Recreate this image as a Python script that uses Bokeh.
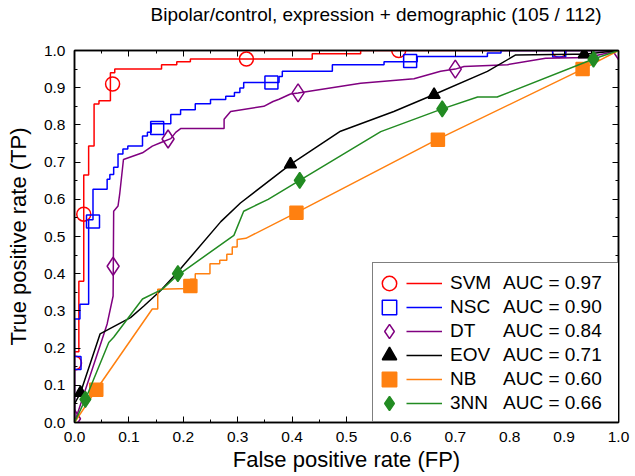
from bokeh.plotting import figure
from bokeh.models import (Range1d, LinearAxis, SingleIntervalTicker, Legend, LegendItem,
                          PrintfTickFormatter, CustomJSTickFormatter)
from bokeh.embed import file_html
from bokeh.resources import INLINE

FONT = "Liberation Sans"

title_text = "Bipolar/control, expression + demographic (105 / 112)"
x_label = "False positive rate (FP)"
y_label = "True positive rate (TP)"

methods = ["SVM", "NSC", "DT", "EOV", "NB", "3NN"]
auc = [0.97, 0.90, 0.84, 0.71, 0.60, 0.66]

# ROC curves: (false positive rate, true positive rate)
svm_pts = [(0, 0), (0, 0.19), (0.008, 0.19), (0.008, 0.38), (0.017, 0.38), (0.017, 0.665),
           (0.026, 0.665), (0.026, 0.743), (0.036, 0.743), (0.036, 0.856), (0.045, 0.856),
           (0.045, 0.865), (0.066, 0.865), (0.066, 0.94), (0.074, 0.94), (0.074, 0.95),
           (0.16, 0.95), (0.16, 0.962), (0.188, 0.962), (0.188, 0.97), (0.213, 0.97),
           (0.213, 0.977), (0.437, 0.977), (0.437, 0.991), (0.526, 0.991), (0.526, 1.0), (1.0, 1.0)]
nsc_pts = [(0, 0), (0, 0.278), (0.01, 0.278), (0.01, 0.318), (0.026, 0.318), (0.026, 0.545),
           (0.034, 0.545), (0.034, 0.627), (0.06, 0.627), (0.06, 0.654), (0.065, 0.654),
           (0.065, 0.667), (0.072, 0.667), (0.072, 0.686), (0.08, 0.686), (0.08, 0.722),
           (0.089, 0.722), (0.089, 0.735), (0.098, 0.735), (0.098, 0.743), (0.125, 0.743),
           (0.125, 0.77), (0.134, 0.77), (0.134, 0.78), (0.141, 0.78), (0.141, 0.803),
           (0.177, 0.803), (0.177, 0.828), (0.195, 0.828), (0.195, 0.841), (0.222, 0.841),
           (0.222, 0.857), (0.25, 0.857), (0.25, 0.868), (0.278, 0.868), (0.278, 0.877),
           (0.294, 0.877), (0.294, 0.887), (0.304, 0.887), (0.304, 0.899), (0.311, 0.899),
           (0.311, 0.914), (0.376, 0.914), (0.376, 0.93), (0.382, 0.93), (0.382, 0.944),
           (0.474, 0.944), (0.474, 0.962), (0.569, 0.962), (0.569, 0.97), (0.63, 0.97),
           (0.63, 0.984), (0.759, 0.984), (0.759, 0.993), (0.784, 0.993), (0.784, 1.0), (1.0, 1.0)]
dt_pts = [(0, 0), (0.048, 0.211), (0.06, 0.265), (0.071, 0.34), (0.072, 0.568), (0.08, 0.582),
          (0.083, 0.613), (0.09, 0.707), (0.125, 0.725), (0.143, 0.743), (0.158, 0.752),
          (0.177, 0.763), (0.186, 0.78), (0.195, 0.79), (0.275, 0.79), (0.275, 0.815),
          (0.287, 0.836), (0.348, 0.85), (0.365, 0.863), (0.376, 0.869), (0.397, 0.883),
          (0.411, 0.886), (0.526, 0.912), (0.624, 0.924), (0.673, 0.944), (0.70, 0.95),
          (0.716, 0.957), (0.796, 0.962), (0.866, 0.979), (0.943, 0.981), (1.0, 1.0)]
eov_pts = [(0, 0), (0, 0.05), (0.011, 0.08), (0.047, 0.238), (0.103, 0.282), (0.128, 0.314),
           (0.158, 0.354), (0.189, 0.403), (0.269, 0.54), (0.305, 0.59), (0.397, 0.694),
           (0.489, 0.783), (0.587, 0.836), (0.66, 0.881), (0.759, 0.944), (0.811, 0.988),
           (0.918, 0.99), (0.937, 0.99), (1.0, 1.0)]
nb_pts = [(0, 0), (0.04, 0.088), (0.143, 0.305), (0.153, 0.305), (0.153, 0.358), (0.213, 0.36),
          (0.213, 0.385), (0.222, 0.385), (0.222, 0.40), (0.249, 0.40), (0.249, 0.427),
          (0.267, 0.427), (0.267, 0.436), (0.28, 0.436), (0.28, 0.452), (0.29, 0.452),
          (0.29, 0.472), (0.299, 0.472), (0.299, 0.492), (0.315, 0.495), (0.408, 0.564),
          (0.667, 0.761), (0.934, 0.95), (1.0, 1.0)]
knn_pts = [(0, 0), (0.02, 0.062), (0.063, 0.215), (0.072, 0.229), (0.125, 0.332), (0.161, 0.358),
           (0.189, 0.395), (0.293, 0.503), (0.311, 0.568), (0.356, 0.6), (0.414, 0.651),
           (0.563, 0.782), (0.676, 0.843), (0.741, 0.875), (0.777, 0.875), (0.954, 0.977), (1.0, 1.0)]

# marker positions along each curve
svm_marks = [(0, 0.16), (0.017, 0.56), (0.07, 0.91), (0.316, 0.977), (0.596, 1.0), (0.891, 1.0)]
nsc_marks = [(0, 0.16), (0.034, 0.54), (0.152, 0.792), (0.362, 0.914), (0.617, 0.972), (0.891, 1.0)]
dt_marks = [(0, 0.01), (0.071, 0.42), (0.172, 0.762), (0.411, 0.886), (0.70, 0.95), (1.0, 1.0)]
eov_marks = [(0.011, 0.08), (0.397, 0.694), (0.661, 0.881), (0.937, 0.99)]
nb_marks = [(0.04, 0.088), (0.213, 0.367), (0.408, 0.564), (0.668, 0.76), (0.934, 0.95)]
knn_marks = [(0.02, 0.062), (0.19, 0.40), (0.414, 0.651), (0.676, 0.843), (0.954, 0.977)]

curves = [svm_pts, nsc_pts, dt_pts, eov_pts, nb_pts, knn_pts]
marks = [svm_marks, nsc_marks, dt_marks, eov_marks, nb_marks, knn_marks]

colors = ["#ff0000", "#0000ff", "#800080", "#000000", "#ff8010", "#228b22"]
marker_types = ["circle", "square", "diamond", "triangle", "square", "diamond"]
marker_fill = [None, None, None, "#000000", "#ff8010", "#228b22"]
marker_sizes = [14, 13, 18, 12, 13, 16]

p = figure(width=635, height=476, x_range=Range1d(0, 1), y_range=Range1d(0, 1),
           output_backend="svg", toolbar_location=None,
           min_border_left=74, min_border_right=17, min_border_top=49, min_border_bottom=54,
           x_axis_label=x_label, y_axis_label=y_label)
p.grid.visible = False
p.outline_line_color = "black"
p.outline_line_width = 1.5
p.background_fill_color = "white"
p.border_fill_color = "white"

p.title.text = title_text
p.title.align = "left"
p.title.offset = 76
p.title.text_font = FONT
p.title.text_font_size = "19px"
p.title.text_font_style = "normal"
p.title.text_color = "black"
p.title.standoff = 2


def style_axis(ax, labels=True):
    ax.ticker = SingleIntervalTicker(interval=0.1, num_minor_ticks=2)
    ax.major_tick_in = 6
    ax.major_tick_out = 0
    ax.minor_tick_in = 3
    ax.minor_tick_out = 0
    ax.major_tick_line_color = "black"
    ax.minor_tick_line_color = "black"
    ax.axis_line_color = "black"
    ax.axis_line_width = 1.5
    if labels:
        ax.formatter = PrintfTickFormatter(format="%.1f")
        ax.major_label_text_font = FONT
        ax.major_label_text_font_size = "15.5px"
        ax.major_label_text_color = "black"
        ax.axis_label_text_font = FONT
        ax.axis_label_text_font_size = "22px"
        ax.axis_label_text_font_style = "normal"
        ax.axis_label_text_color = "black"
    else:
        ax.formatter = CustomJSTickFormatter(code="return ''")
        ax.major_label_standoff = 0


style_axis(p.xaxis[0])
p.xaxis[0].major_label_standoff = 9
p.xaxis[0].axis_label_standoff = 2
style_axis(p.yaxis[0])
p.yaxis[0].major_label_standoff = 9
p.yaxis[0].axis_label_standoff = 10

# top axis: ticks only; its (blank) label keeps a gap between the title and the frame
top_ax = LinearAxis(axis_label=" ", axis_label_standoff=21, axis_label_text_font_size="1px")
style_axis(top_ax, labels=False)
p.add_layout(top_ax, "above")
right_ax = LinearAxis()
style_axis(right_ax, labels=False)
p.add_layout(right_ax, "right")

line_rs = []
mark_rs = []
for pts, mk, col, mt, mf, ms in zip(curves, marks, colors, marker_types, marker_fill, marker_sizes):
    lx = [a for a, b in pts]
    ly = [b for a, b in pts]
    lr = p.line(lx, ly, line_color=col, line_width=1.5)
    mx = [a for a, b in mk]
    my = [b for a, b in mk]
    mr = p.scatter(mx, my, marker=mt, size=ms, line_color=col, line_width=1.5,
                   fill_color=mf if mf else None)
    line_rs.append(lr)
    mark_rs.append(mr)

text_style = dict(label_text_font=FONT, label_text_font_size="19px", label_text_color="black",
                  margin=0, orientation="vertical")
ROW = 24

# legend frame: white box with black border in the lower right corner
box = Legend(items=[LegendItem(label=" ", renderers=[r]) for r in line_rs],
             location=(298, 0), glyph_width=0, glyph_height=ROW, label_height=ROW,
             spacing=0, padding=7, label_standoff=0, label_width=232,
             border_line_color="black", border_line_width=1.5,
             background_fill_color="white", background_fill_alpha=1.0, **text_style)
p.add_layout(box)

# one row per method: marker key and method name
for i, (m, r) in enumerate(zip(methods, mark_rs)):
    leg = Legend(items=[LegendItem(label=m, renderers=[r])],
                 location=(297, 121 - ROW * i),
                 glyph_width=36, glyph_height=36, label_standoff=43, padding=0,
                 border_line_color=None, background_fill_alpha=0.0, **text_style)
    p.add_layout(leg)

# line keys
leg_lines = Legend(items=[LegendItem(label=" ", renderers=[r]) for r in line_rs],
                   location=(332, 7), glyph_width=36, glyph_height=ROW, label_height=ROW,
                   spacing=0, padding=0, label_standoff=0, label_width=0,
                   border_line_color=None, background_fill_alpha=0.0, **text_style)
p.add_layout(leg_lines)

# AUC column
leg_auc = Legend(items=[LegendItem(label="AUC = %.2f" % a, renderers=[r]) for a, r in zip(auc, line_rs)],
                 location=(429, 7), glyph_width=0, glyph_height=ROW, label_height=ROW,
                 spacing=0, padding=0, label_standoff=0, label_width=0,
                 border_line_color=None, background_fill_alpha=0.0, **text_style)
p.add_layout(leg_auc)

open("out.html", "w").write(file_html(p, INLINE))
